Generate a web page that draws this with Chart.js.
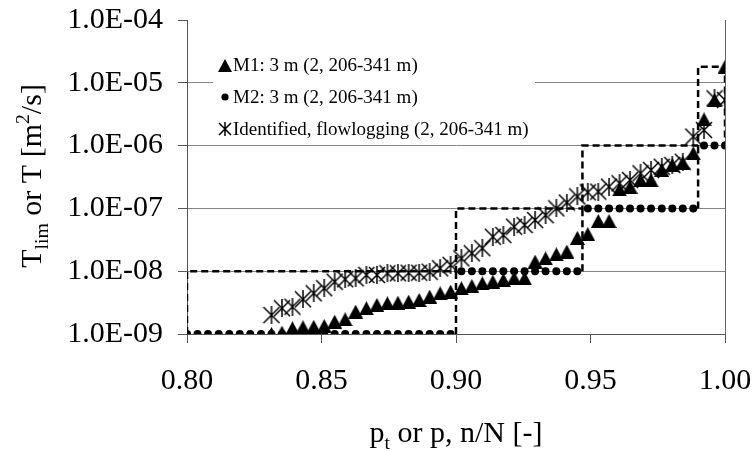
<!DOCTYPE html>
<html>
<head>
<meta charset="utf-8">
<script src="https://cdn.jsdelivr.net/npm/chart.js@4.4.1/dist/chart.umd.min.js"></script>
<style>
    html, body { margin: 0; padding: 0; background: #fff; }
</style>
</head>
<body>
<canvas id="chart" width="755" height="451"></canvas>
<script>
const xTicks = [0.80, 0.85, 0.90, 0.95, 1.00];
const xTickLabels = ['0.80', '0.85', '0.90', '0.95', '1.00'];
const yTicks = [1e-9, 1e-8, 1e-7, 1e-6, 1e-5, 1e-4];
const yTickLabels = ['1.0E-09', '1.0E-08', '1.0E-07', '1.0E-06', '1.0E-05', '1.0E-04'];

const seriesLabels = [
    'M1: 3 m (2, 206-341 m)',
    'M2: 3 m (2, 206-341 m)',
    'Identified, flowlogging (2, 206-341 m)',
];

// p values of the measured sections (M1 and flowlogging share them)
const pMeasured = [
    0.8314, 0.8353, 0.8392, 0.8431, 0.8471, 0.8510, 0.8549, 0.8588, 0.8627, 0.8667,
    0.8706, 0.8745, 0.8784, 0.8824, 0.8863, 0.8902, 0.8941, 0.8980, 0.9020, 0.9059,
    0.9098, 0.9137, 0.9176, 0.9216, 0.9255, 0.9294, 0.9333, 0.9373, 0.9412, 0.9451,
    0.9490, 0.9529, 0.9569, 0.9608, 0.9647, 0.9686, 0.9725, 0.9765, 0.9804, 0.9843,
    0.9882, 0.9922, 0.9961, 1.0000,
];
const m1T = [
    1.0e-9, 1.05e-9, 1.23e-9, 1.28e-9, 1.3e-9, 1.34e-9, 1.57e-9, 1.71e-9, 2.27e-9, 2.57e-9,
    2.9e-9, 3.08e-9, 3.15e-9, 3.27e-9, 3.48e-9, 3.93e-9, 4.45e-9, 4.72e-9, 5.34e-9, 5.81e-9,
    6.41e-9, 6.8e-9, 7.24e-9, 7.7e-9, 7.7e-9, 1.42e-8, 1.6e-8, 1.85e-8, 2.05e-8, 3.4e-8,
    3.9e-8, 6.3e-8, 6.3e-8, 2.0e-7, 2.22e-7, 2.83e-7, 2.83e-7, 4.08e-7, 4.91e-7, 5.34e-7,
    7.54e-7, 2.62e-6, 5.32e-6, 1.8e-5,
];
const flowT = [
    2.0e-9, 2.57e-9, 2.72e-9, 3.57e-9, 4.45e-9, 5.34e-9, 6.8e-9, 7.43e-9, 7.7e-9, 8.7e-9,
    8.7e-9, 9.26e-9, 9.26e-9, 9.46e-9, 9.46e-9, 9.82e-9, 1.11e-8, 1.26e-8, 1.6e-8, 1.93e-8,
    2.32e-8, 3.54e-8, 3.77e-8, 5.11e-8, 5.44e-8, 6.53e-8, 7.8e-8, 1.0e-7, 1.24e-7, 1.55e-7,
    1.8e-7, 1.85e-7, 2.22e-7, 2.51e-7, 2.83e-7, 3.62e-7, 4.08e-7, 4.61e-7, 4.91e-7, 5.54e-7,
    1.39e-6, 1.77e-6, 5.66e-6, 5.32e-6,
];

const m2P = [
    0.8000, 0.8039, 0.8078, 0.8118, 0.8157, 0.8196, 0.8235, 0.8275, 0.8314, 0.8353,
    0.8392, 0.8431, 0.8471, 0.8510, 0.8549, 0.8588, 0.8627, 0.8667, 0.8706, 0.8745,
    0.8784, 0.8824, 0.8863, 0.8902, 0.8941, 0.8980, 0.9020, 0.9059, 0.9098, 0.9137,
    0.9176, 0.9216, 0.9255, 0.9294, 0.9333, 0.9373, 0.9412, 0.9451, 0.9490, 0.9529,
    0.9569, 0.9608, 0.9647, 0.9686, 0.9725, 0.9765, 0.9804, 0.9843, 0.9882, 0.9922,
    0.9961, 1.0000,
];
const m2T = [
    1e-9, 1e-9, 1e-9, 1e-9, 1e-9, 1e-9, 1e-9, 1e-9, 1e-9, 1e-9,
    1e-9, 1e-9, 1e-9, 1e-9, 1e-9, 1e-9, 1e-9, 1e-9, 1e-9, 1e-9,
    1e-9, 1e-9, 1e-9, 1e-9, 1e-9, 1e-9, 1e-8, 1e-8, 1e-8, 1e-8,
    1e-8, 1e-8, 1e-8, 1e-8, 1e-8, 1e-8, 1e-8, 1e-8, 1e-7, 1e-7,
    1e-7, 1e-7, 1e-7, 1e-7, 1e-7, 1e-7, 1e-7, 1e-7, 1e-7, 1e-6,
    1e-6, 1e-6,
];

// dashed class limits: the staircase, then the lower parts of the right edges (null = gap)
const limitP = [0.80, 0.80, 0.90, 0.90, 0.947, 0.947, 0.990, 0.990, 1.00, 1.00,
    0.90, 0.90, 0.90, 0.947, 0.947, 0.947, 0.990, 0.990, 0.990];
const limitT = [1e-9, 1e-8, 1e-8, 1e-7, 1e-7, 1e-6, 1e-6, 1.8e-5, 1.8e-5, 1e-6,
    null, 1e-9, 1e-8, null, 1e-8, 1e-7, null, 1e-7, 1e-6];

const FONT = '"Liberation Serif", "Times New Roman", serif';

function toPoints(xs, ys) {
    return xs.map((x, i) => ({ x: x, y: ys[i] }));
}

function triangleMarker(w, h) {
    const c = document.createElement('canvas');
    c.width = w;
    c.height = h;
    const g = c.getContext('2d');
    g.fillStyle = '#000';
    g.beginPath();
    g.moveTo(w / 2, 0);
    g.lineTo(w, h);
    g.lineTo(0, h);
    g.closePath();
    g.fill();
    return c;
}

function starMarker(s) {
    const c = document.createElement('canvas');
    c.width = s;
    c.height = s;
    const g = c.getContext('2d');
    g.strokeStyle = '#000';
    g.lineWidth = 1.5;
    g.beginPath();
    g.moveTo(1, 1); g.lineTo(s - 1, s - 1);
    g.moveTo(s - 1, 1); g.lineTo(1, s - 1);
    g.moveTo(s / 2, 0); g.lineTo(s / 2, s);
    g.stroke();
    return c;
}

const triangle = triangleMarker(15, 14);
const star = starMarker(18);
const legendTriangle = triangleMarker(14, 13);
const legendStar = starMarker(14);

// draws text made of normal / sub / super parts, centred on cx
function richText(ctx, parts, cx, baseline, size) {
    let width = 0;
    parts.forEach((p) => {
        ctx.font = `${size * (p.scale || 1)}px ${FONT}`;
        width += ctx.measureText(p.text).width;
    });
    let x = cx - width / 2;
    ctx.textBaseline = 'alphabetic';
    ctx.textAlign = 'left';
    parts.forEach((p) => {
        ctx.font = `${size * (p.scale || 1)}px ${FONT}`;
        ctx.fillText(p.text, x, baseline + (p.shift || 0) * size);
        x += ctx.measureText(p.text).width;
    });
}

const overlay = {
    id: 'overlay',
    afterDraw(chart) {
        const ctx = chart.ctx;
        ctx.save();

        // legend box inside the plot
        ctx.fillStyle = '#fff';
        ctx.fillRect(213, 46, 322, 95);
        const rows = [65.5, 97, 129];
        ctx.drawImage(legendTriangle, 225 - 7, rows[0] - 6.5);
        ctx.fillStyle = '#000';
        ctx.beginPath();
        ctx.arc(225, rows[1], 3.6, 0, Math.PI * 2);
        ctx.fill();
        ctx.drawImage(legendStar, 225 - 7, rows[2] - 7);
        ctx.font = `19px ${FONT}`;
        ctx.textAlign = 'left';
        ctx.textBaseline = 'middle';
        seriesLabels.forEach((t, i) => ctx.fillText(t, 233, rows[i] + 1));

        // axis titles
        richText(ctx, [
            { text: 'p' },
            { text: 't', scale: 0.66, shift: 0.22 },
            { text: ' or p, n/N [-]' },
        ], 456, 442, 30);

        ctx.translate(41, 176);
        ctx.rotate(-Math.PI / 2);
        richText(ctx, [
            { text: 'T' },
            { text: 'lim', scale: 0.66, shift: 0.22 },
            { text: ' or T [m' },
            { text: '2', scale: 0.66, shift: -0.4 },
            { text: '/s]' },
        ], 0, 0, 30);
        ctx.restore();
    },
};

const chartCanvas = document.getElementById('chart');
new Chart(chartCanvas, {
    type: 'scatter',
    data: {
        datasets: [
            {
                label: seriesLabels[2],
                data: toPoints(pMeasured, flowT),
                pointStyle: star,
                pointRadius: 9,
                showLine: false,
            },
            {
                label: seriesLabels[1],
                data: toPoints(m2P, m2T),
                pointStyle: 'circle',
                pointRadius: 4,
                backgroundColor: '#000',
                borderColor: '#000',
                borderWidth: 0,
                showLine: false,
            },
            {
                label: seriesLabels[0],
                data: toPoints(pMeasured, m1T),
                pointStyle: triangle,
                pointRadius: 8,
                showLine: false,
            },
            {
                label: 'limits',
                data: toPoints(limitP, limitT),
                showLine: true,
                spanGaps: false,
                borderColor: '#000',
                borderWidth: 2.5,
                borderDash: [7, 4],
                pointRadius: 0,
                fill: false,
            },
        ],
    },
    options: {
        responsive: false,
        animation: false,
        events: [],
        layout: {
            padding: { top: 20, right: 30, left: 0, bottom: 0 },
        },
        plugins: {
            legend: { display: false },
            tooltip: { enabled: false },
        },
        scales: {
            x: {
                type: 'linear',
                min: 0.8,
                max: 1.0,
                afterBuildTicks: (axis) => {
                    axis.ticks = xTicks.map((v) => ({ value: v }));
                },
                afterFit: (axis) => {
                    axis.height = 117;
                    axis.paddingLeft = 0;
                    axis.paddingRight = 0;
                },
                ticks: {
                    callback: (value, index) => xTickLabels[index],
                    color: '#000',
                    padding: 20,
                    maxRotation: 0,
                    font: { family: FONT, size: 30 },
                },
                grid: {
                    color: (c) => (c.tick && c.tick.value === 1 ? '#666' : 'rgba(0,0,0,0)'),
                    tickColor: '#555',
                    tickLength: 9,
                },
                border: { color: '#555', width: 1 },
            },
            y: {
                type: 'logarithmic',
                min: 1e-9,
                max: 1e-4,
                afterBuildTicks: (axis) => {
                    axis.ticks = yTicks.map((v) => ({ value: v }));
                },
                afterFit: (axis) => {
                    axis.width = 187;
                    axis.paddingTop = 0;
                    axis.paddingBottom = 0;
                },
                ticks: {
                    callback: (value, index) => yTickLabels[index],
                    color: '#000',
                    padding: 15,
                    font: { family: FONT, size: 30 },
                },
                grid: {
                    color: (c) => (c.tick && c.tick.value >= 1e-4 ? 'rgba(0,0,0,0)' : '#858585'),
                    tickColor: '#555',
                    tickLength: 9,
                },
                border: { color: '#555', width: 1 },
            },
        },
    },
    plugins: [overlay],
});
</script>
</body>
</html>
